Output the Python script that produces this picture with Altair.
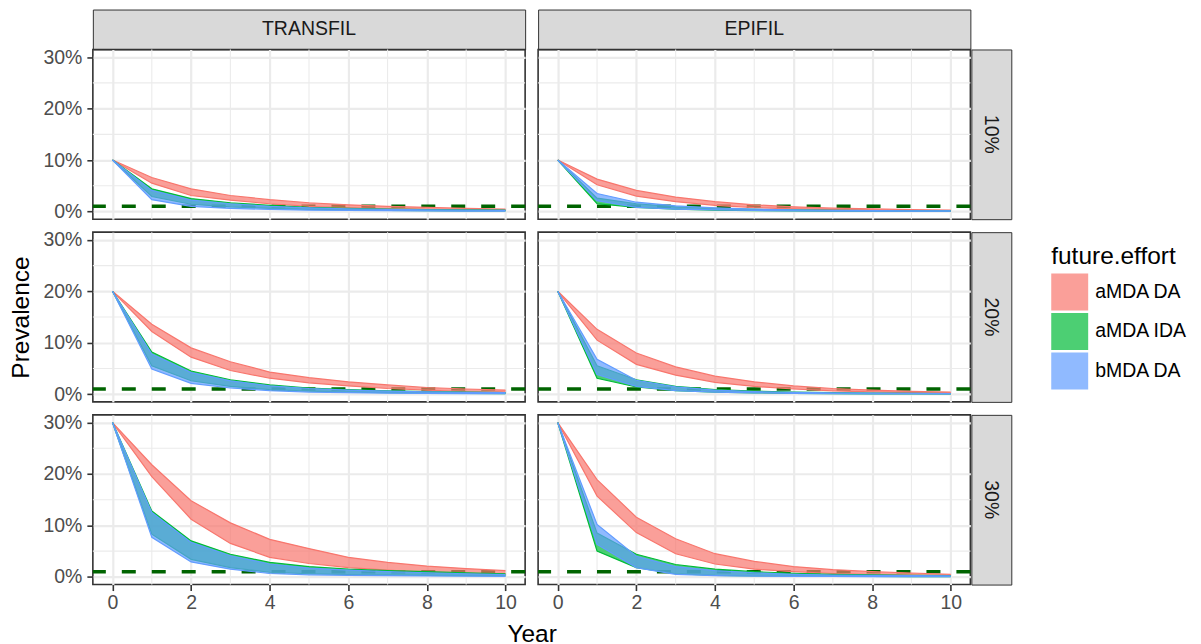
import altair as alt
import pandas as pd

YEARS = list(range(11))
MODELS = ["TRANSFIL", "EPIFIL"]
PREVS = ["10%", "20%", "30%"]
GROUPS = ["aMDA DA", "aMDA IDA", "bMDA DA"]
COLORS = ["#F8766D", "#00BA38", "#619CFF"]
THRESHOLD = [1.0]
X_MAJOR = [0, 2, 4, 6, 8, 10]
X_MINOR = [1, 3, 5, 7, 9]
Y_MAJOR = [0, 10, 20, 30]
Y_MINOR = [5, 15, 25]

# ---- TRANSFIL, 10% ----
tr10_ada_hi = [10, 6.6, 4.4, 3.1, 2.3, 1.7, 1.3, 1.0, 0.8, 0.6, 0.45]
tr10_ada_lo = [10, 5.5, 3.1, 2.2, 1.5, 1.0, 0.7, 0.5, 0.4, 0.3, 0.25]
tr10_aida_hi = [10, 4.4, 2.5, 1.7, 1.2, 0.8, 0.6, 0.45, 0.35, 0.3, 0.25]
tr10_aida_lo = [10, 2.9, 1.4, 0.9, 0.6, 0.4, 0.3, 0.2, 0.15, 0.1, 0.1]
tr10_bda_hi = [10, 4.1, 2.2, 1.5, 1.0, 0.7, 0.5, 0.4, 0.3, 0.25, 0.2]
tr10_bda_lo = [10, 2.3, 1.0, 0.6, 0.4, 0.25, 0.2, 0.15, 0.1, 0.05, 0.05]
# ---- EPIFIL, 10% ----
ep10_ada_hi = [10, 6.3, 4.1, 2.8, 1.9, 1.3, 0.9, 0.65, 0.5, 0.35, 0.25]
ep10_ada_lo = [10, 5.2, 3.0, 1.9, 1.2, 0.75, 0.5, 0.35, 0.25, 0.15, 0.1]
ep10_aida_hi = [10, 2.6, 1.5, 0.9, 0.6, 0.4, 0.3, 0.2, 0.15, 0.1, 0.1]
ep10_aida_lo = [10, 1.5, 0.8, 0.45, 0.25, 0.15, 0.1, 0.05, 0.05, 0.05, 0.05]
ep10_bda_hi = [10, 3.5, 1.8, 1.1, 0.7, 0.45, 0.3, 0.2, 0.15, 0.1, 0.1]
ep10_bda_lo = [10, 2.1, 0.8, 0.45, 0.3, 0.2, 0.1, 0.07, 0.05, 0.05, 0.05]
# ---- TRANSFIL, 20% ----
tr20_ada_hi = [20, 13.6, 9.0, 6.3, 4.3, 3.2, 2.4, 1.8, 1.3, 1.0, 0.8]
tr20_ada_lo = [20, 12.2, 7.2, 4.6, 3.1, 2.2, 1.6, 1.1, 0.8, 0.5, 0.4]
tr20_aida_hi = [20, 8.2, 4.5, 2.8, 1.8, 1.2, 0.9, 0.65, 0.5, 0.4, 0.3]
tr20_aida_lo = [20, 5.5, 2.6, 1.5, 0.9, 0.6, 0.4, 0.3, 0.2, 0.15, 0.1]
tr20_bda_hi = [20, 7.8, 4.2, 2.6, 1.6, 1.1, 0.8, 0.6, 0.45, 0.35, 0.3]
tr20_bda_lo = [20, 4.9, 2.1, 1.2, 0.7, 0.4, 0.3, 0.2, 0.15, 0.1, 0.1]
# ---- EPIFIL, 20% ----
ep20_ada_hi = [20, 12.6, 8.0, 5.3, 3.5, 2.4, 1.6, 1.1, 0.8, 0.55, 0.4]
ep20_ada_lo = [20, 10.5, 5.8, 3.7, 2.3, 1.5, 1.0, 0.65, 0.45, 0.3, 0.2]
ep20_aida_hi = [20, 5.5, 2.8, 1.5, 0.9, 0.6, 0.4, 0.3, 0.2, 0.15, 0.1]
ep20_aida_lo = [20, 3.1, 1.4, 0.7, 0.4, 0.25, 0.15, 0.1, 0.07, 0.05, 0.05]
ep20_bda_hi = [20, 6.8, 2.7, 1.4, 0.8, 0.5, 0.35, 0.25, 0.2, 0.15, 0.1]
ep20_bda_lo = [20, 3.8, 1.5, 0.7, 0.4, 0.25, 0.15, 0.1, 0.07, 0.05, 0.05]
# ---- TRANSFIL, 30% ----
tr30_ada_hi = [30, 21.8, 14.8, 10.5, 7.3, 5.5, 3.8, 2.8, 2.1, 1.6, 1.2]
tr30_ada_lo = [30, 19.5, 11.2, 6.5, 3.8, 2.6, 1.8, 1.3, 0.9, 0.65, 0.5]
tr30_aida_hi = [30, 12.8, 7.0, 4.4, 2.8, 2.0, 1.5, 1.2, 1.0, 0.8, 0.6]
tr30_aida_lo = [30, 8.3, 3.4, 1.8, 0.9, 0.6, 0.45, 0.35, 0.3, 0.25, 0.2]
tr30_bda_hi = [30, 12.5, 6.7, 4.1, 2.5, 1.7, 1.3, 1.0, 0.8, 0.6, 0.45]
tr30_bda_lo = [30, 7.7, 2.9, 1.5, 0.65, 0.4, 0.3, 0.25, 0.2, 0.15, 0.1]
# ---- EPIFIL, 30% ----
ep30_ada_hi = [30, 18.9, 11.6, 7.4, 4.5, 3.0, 2.0, 1.4, 1.0, 0.75, 0.5]
ep30_ada_lo = [30, 15.7, 8.6, 4.5, 2.5, 1.5, 1.0, 0.65, 0.45, 0.3, 0.2]
ep30_aida_hi = [30, 8.5, 4.4, 2.4, 1.5, 1.0, 0.7, 0.5, 0.4, 0.3, 0.25]
ep30_aida_lo = [30, 5.0, 1.8, 0.6, 0.3, 0.2, 0.15, 0.1, 0.07, 0.05, 0.05]
ep30_bda_hi = [30, 10.2, 4.0, 2.0, 1.2, 0.8, 0.5, 0.35, 0.3, 0.25, 0.2]
ep30_bda_lo = [30, 6.3, 1.8, 0.5, 0.25, 0.15, 0.1, 0.07, 0.05, 0.05, 0.05]

SERIES = {
    ("TRANSFIL", "10%", "aMDA DA"): (tr10_ada_lo, tr10_ada_hi),
    ("TRANSFIL", "10%", "aMDA IDA"): (tr10_aida_lo, tr10_aida_hi),
    ("TRANSFIL", "10%", "bMDA DA"): (tr10_bda_lo, tr10_bda_hi),
    ("EPIFIL", "10%", "aMDA DA"): (ep10_ada_lo, ep10_ada_hi),
    ("EPIFIL", "10%", "aMDA IDA"): (ep10_aida_lo, ep10_aida_hi),
    ("EPIFIL", "10%", "bMDA DA"): (ep10_bda_lo, ep10_bda_hi),
    ("TRANSFIL", "20%", "aMDA DA"): (tr20_ada_lo, tr20_ada_hi),
    ("TRANSFIL", "20%", "aMDA IDA"): (tr20_aida_lo, tr20_aida_hi),
    ("TRANSFIL", "20%", "bMDA DA"): (tr20_bda_lo, tr20_bda_hi),
    ("EPIFIL", "20%", "aMDA DA"): (ep20_ada_lo, ep20_ada_hi),
    ("EPIFIL", "20%", "aMDA IDA"): (ep20_aida_lo, ep20_aida_hi),
    ("EPIFIL", "20%", "bMDA DA"): (ep20_bda_lo, ep20_bda_hi),
    ("TRANSFIL", "30%", "aMDA DA"): (tr30_ada_lo, tr30_ada_hi),
    ("TRANSFIL", "30%", "aMDA IDA"): (tr30_aida_lo, tr30_aida_hi),
    ("TRANSFIL", "30%", "bMDA DA"): (tr30_bda_lo, tr30_bda_hi),
    ("EPIFIL", "30%", "aMDA DA"): (ep30_ada_lo, ep30_ada_hi),
    ("EPIFIL", "30%", "aMDA IDA"): (ep30_aida_lo, ep30_aida_hi),
    ("EPIFIL", "30%", "bMDA DA"): (ep30_bda_lo, ep30_bda_hi),
}

rows = []
for (m, p, g), (lo, hi) in SERIES.items():
    for yr, l, h in zip(YEARS, lo, hi):
        rows.append({"model": m, "prev": p, "group": g, "year": yr, "lo": l, "hi": h})
df = pd.DataFrame(rows)

FONT = "Liberation Sans"
W, H = 433, 170
STRIP_H, STRIP_W = 40, 40
COL_GAP, ROW_GAP = 11, 12.5
xs = alt.Scale(domain=[-0.5, 10.5], nice=False, zero=False)
ys = alt.Scale(domain=[-1.5, 31.5], nice=False, zero=False)
cs = alt.Scale(domain=GROUPS, range=COLORS)


def panel(model, prev, show_x, show_y, xtitle=False, ytitle=False):
    xa_kw = dict(values=X_MAJOR, labels=show_x, ticks=show_x, domain=False, grid=True,
                 labelFlush=False, labelOverlap=False, labelPadding=3, title=None)
    if xtitle:
        xa_kw.update(title="Year", titleX=(2 * W + COL_GAP + 2) / 2, titleAlign="center",
                     titlePadding=11)
    ya_kw = dict(values=Y_MAJOR, labels=show_y, ticks=show_y, domain=False, grid=True,
                 labelFlush=False, labelOverlap=False, labelPadding=5,
                 labelExpr="datum.value + '%'", title=None)
    if ytitle:
        ya_kw.update(title="Prevalence", titlePadding=9)
    xa = alt.Axis(**xa_kw)
    ya = alt.Axis(**ya_kw)

    minor_x = alt.Chart(pd.DataFrame({"v": X_MINOR})).mark_rule(
        color="#EBEBEB", strokeWidth=1.1).encode(x=alt.X("v:Q", scale=xs, axis=xa))
    minor_y = alt.Chart(pd.DataFrame({"v": Y_MINOR})).mark_rule(
        color="#EBEBEB", strokeWidth=1.1).encode(y=alt.Y("v:Q", scale=ys, axis=ya))
    thr = alt.Chart(pd.DataFrame({"t": THRESHOLD})).mark_rule(
        color="#006400", strokeDash=[14, 16], strokeWidth=3.5).encode(
        y=alt.Y("t:Q", scale=ys, axis=ya))

    layers = [minor_x, minor_y, thr]
    d = df[(df.model == model) & (df.prev == prev)]
    for g, c in zip(GROUPS, COLORS):
        dg = d[d.group == g]
        base = alt.Chart(dg)
        area = base.mark_area(opacity=0.7).encode(
            x=alt.X("year:Q", scale=xs, axis=xa),
            y=alt.Y("hi:Q", scale=ys, axis=ya),
            y2=alt.Y2("lo:Q"),
            color=alt.Color("group:N", scale=cs, title="future.effort"),
        )
        l_hi = base.mark_line(color=c, strokeWidth=1.2).encode(
            x=alt.X("year:Q", scale=xs, axis=xa), y=alt.Y("hi:Q", scale=ys, axis=ya))
        l_lo = base.mark_line(color=c, strokeWidth=1.2).encode(
            x=alt.X("year:Q", scale=xs, axis=xa), y=alt.Y("lo:Q", scale=ys, axis=ya))
        layers += [area, l_hi, l_lo]
    return alt.layer(*layers).properties(width=W, height=H)


def col_strip(label):
    return alt.Chart(pd.DataFrame({"lab": [label]})).mark_text(
        font=FONT, fontSize=19.5, color="#1A1A1A").encode(text="lab:N").properties(
        width=W, height=STRIP_H, view=alt.ViewBackground(fill="#D9D9D9", stroke="#333333"))


def row_strip(label):
    return alt.Chart(pd.DataFrame({"lab": [label]})).mark_text(
        font=FONT, fontSize=19.5, color="#1A1A1A", angle=90).encode(text="lab:N").properties(
        width=STRIP_W, height=H, view=alt.ViewBackground(fill="#D9D9D9", stroke="#333333"))


def spacer(w, h):
    return alt.Chart(pd.DataFrame({"a": [""]})).mark_text(opacity=0).encode(
        text="a:N").properties(
        width=w, height=h, view=alt.ViewBackground(stroke="transparent", fill="transparent"))


COL_W = [W, COL_GAP, W, STRIP_W]
cells = [col_strip(MODELS[0]), spacer(COL_GAP, STRIP_H), col_strip(MODELS[1]),
         spacer(STRIP_W, STRIP_H)]
for i, prev in enumerate(PREVS):
    if i > 0:
        cells += [spacer(w, ROW_GAP) for w in COL_W]
    last = i == len(PREVS) - 1
    cells += [
        panel("TRANSFIL", prev, show_x=last, show_y=True, xtitle=last, ytitle=(i == 1)),
        spacer(COL_GAP, H),
        panel("EPIFIL", prev, show_x=last, show_y=False),
        row_strip(prev),
    ]

chart = alt.concat(
    *cells, columns=4, spacing={"row": 0, "column": 1}, bounds="flush", align="each"
).properties(
    padding={"left": 0, "top": 0, "right": 5, "bottom": 0},
    background="white",
).configure_view(
    stroke="#333333", strokeWidth=1.6
).configure_axis(
    labelFont=FONT, labelFontSize=19.5, labelColor="#4D4D4D",
    tickColor="#333333", tickSize=6, tickWidth=1.6,
    gridColor="#EBEBEB", gridWidth=2.2,
    titleFont=FONT, titleFontSize=24.5, titleFontWeight="normal", titleColor="#000000",
).configure_legend(
    orient="none", legendX=960, legendY=236,
    titleFont=FONT, titleFontSize=24.5, titleFontWeight="normal", titleColor="#000000",
    titlePadding=4,
    labelFont=FONT, labelFontSize=19.5, labelColor="#000000", labelOffset=7,
    symbolType="square", symbolSize=1369, symbolStrokeWidth=0, symbolOpacity=0.7,
    rowPadding=2.5,
)

chart.save("out.html", embed_options={"renderer": "svg", "actions": False})
